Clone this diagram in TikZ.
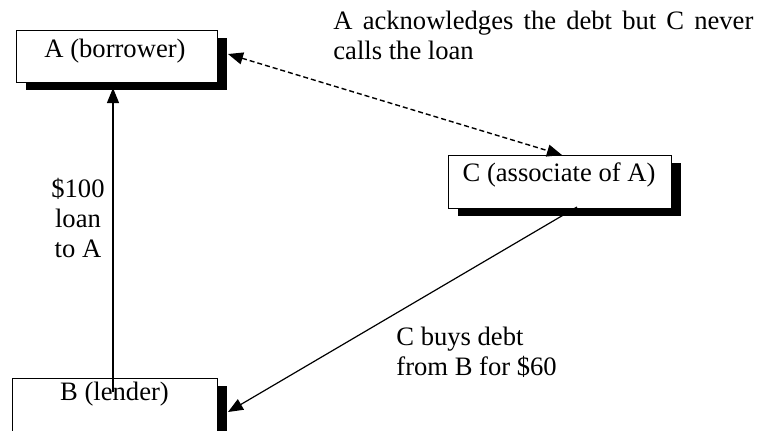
\documentclass[tikz,border=0pt]{standalone}
\usepackage{fontspec}
\setmainfont{Liberation Serif}
\usetikzlibrary{arrows.meta,shadows}
\begin{document}
\begin{tikzpicture}[x=0.5pt,y=-0.5pt,
  every node/.style={font=\fontsize{13.3pt}{15pt}\selectfont, inner sep=0pt},
  box/.style={draw=black, line width=0.5pt, fill=white, rectangle,
    drop shadow={shadow xshift=5pt, shadow yshift=-4pt, fill=black, opacity=1}},
  conn/.style={line width=0.6pt, -{Triangle[length=7.5pt,width=6pt]}},
  dconn/.style={line width=0.7pt, dash pattern=on 2.5pt off 1.5pt,
    {Triangle[length=7.5pt,width=6pt]}-{Triangle[length=7.5pt,width=6pt]}}
]
\useasboundingbox (0,0) rectangle (766,430);
\begin{scope}
\clip (0,0) rectangle (766,430);
% boxes
\node[box, minimum width=100.5pt, minimum height=26pt] (A) at (116.5,56) {};
\node[box, minimum width=111.5pt, minimum height=26.5pt] (C) at (559.5,181.5) {};
\node[box, minimum width=102.5pt, minimum height=35pt] (B) at (114.5,413) {};
\end{scope}
% box texts
\node[anchor=base] (Atext) at (115,57) {A (borrower)};
\node[anchor=base] (Ctext) at (559,181) {C (associate of A)};
\node[anchor=base] (Btext) at (114.5,400) {B (lender)};
% connector end points
\coordinate (bstart) at (113,392);
\coordinate (aend) at (113,88);
\coordinate (adash) at (228,54);
\coordinate (cdash) at (562,155);
\coordinate (cstart) at (577,207);
\coordinate (bend) at (228,412);
\draw[conn] (bstart) -- (aend);
\draw[dconn] (adash) -- (cdash);
\draw[conn] (cstart) -- (bend);
% labels
\node[anchor=north, align=center] (loanlab) at (78,178) {\$100\\loan\\to A};
\node[anchor=north west, align=left] (buylab) at (396,327) {C buys debt\\from B for \$60};
\node[anchor=north west, text width=210pt, align=justify] (acklab) at (333,11)
  {A acknowledges the debt but C never calls the loan};
\end{tikzpicture}
\end{document}
